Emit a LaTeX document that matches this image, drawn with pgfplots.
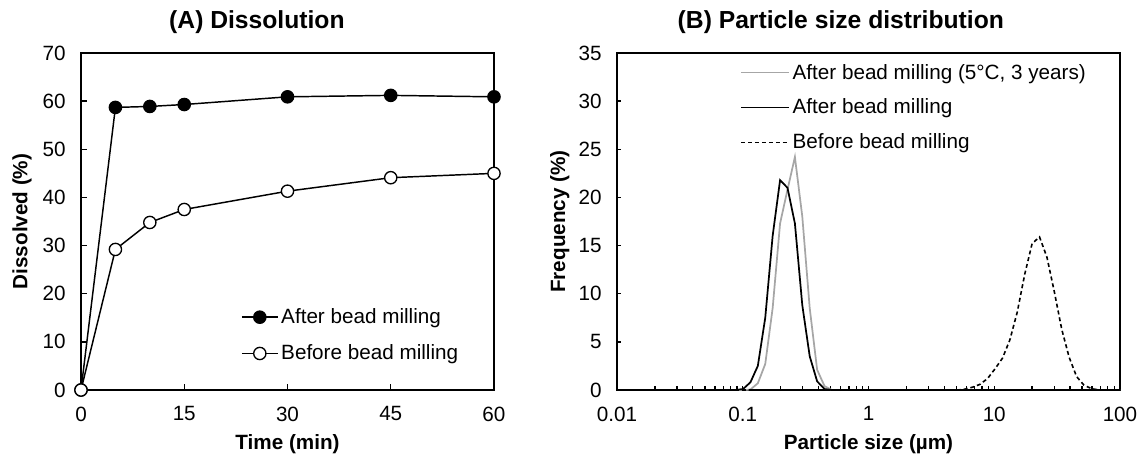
\documentclass[border=0pt]{standalone}
\usepackage{fontspec}
\setmainfont{Liberation Sans}
\usepackage{pgfplots}
\pgfplotsset{compat=1.18}
\definecolor{lgray}{RGB}{166,166,166}
\begin{document}
\begin{tikzpicture}
\pgfplotsset{
  every axis/.append style={
    scale only axis,
    clip=false,
    axis line style={line width=1.4pt},
    tick align=inside,
    xtick pos=bottom, ytick pos=left,
    tick style={line width=1pt, black},
    major tick length=4.5pt,
    minor tick length=3pt,
    tick label style={font=\fontsize{15.5}{18}\selectfont},
    xticklabel style={yshift=-9pt},
    yticklabel style={xshift=-8pt},
    label style={font=\bfseries\fontsize{15.5}{18}\selectfont},
    title style={font=\bfseries\fontsize{18.5}{22}\selectfont},
    /pgf/number format/assume math mode=true,
    legend style={draw=none, fill=none, font=\fontsize{15.5}{18}\selectfont, inner sep=0pt},
    legend cell align=left,
  },
}
\path[use as bounding box] (-60.75pt,-48.75pt) rectangle (793.5pt,292.5pt);

\begin{axis}[name=A, at={(0pt,0pt)}, anchor=south west,
  width=309.75pt, height=252.75pt,
  xmin=0, xmax=60, ymin=0, ymax=70,
  xtick={0,15,30,45,60}, ytick={0,10,...,70},
  xlabel={Time (min)}, ylabel={Dissolved (\%)},
  xlabel style={at={(axis description cs:0.5,-0.160)}, anchor=center},
  ylabel style={at={(axis description cs:-0.1429,0.5)}, anchor=center},
  title={(A) Dissolution},
  title style={at={(axis description cs:0.426,1.068)}, anchor=center, yshift=0pt},
  legend style={at={(axis description cs:0.387,0.25)}, anchor=north west, row sep=10.5pt},
  legend image code/.code={\draw[mark repeat=2,mark phase=2,#1] plot coordinates {(0pt,0pt) (13.5pt,0pt) (27pt,0pt)};},
]
\addplot[black, line width=1.1pt, mark=*, mark size=4.6pt, mark options={fill=black, line width=1pt}]
  coordinates {(0,0) (5,58.7) (10,58.9) (15,59.3) (30,60.9) (45,61.2) (60,60.9)};
\addlegendentry{After bead milling}
\addplot[black, line width=1.1pt, mark=*, mark size=4.6pt, mark options={fill=white, line width=1pt}]
  coordinates {(0,0) (5,29.2) (10,34.8) (15,37.5) (30,41.3) (45,44.1) (60,45.0)};
\addlegendentry{Before bead milling}
\end{axis}

\begin{axis}[name=B, at={(402pt,0pt)}, anchor=south west,
  width=377.25pt, height=252.75pt,
  xmode=log, xmin=0.01, xmax=100, ymin=0, ymax=35,
  xtick={0.01,0.1,1,10,100}, xticklabels={0.01,0.1,1,10,100},
  major tick length=3pt,
  ytick={0,5,...,35},
  yticklabel style={/pgf/number format/fixed},
  xlabel={Particle size (µm)}, ylabel={Frequency (\%)},
  xlabel style={at={(axis description cs:0.5,-0.160)}, anchor=center},
  ylabel style={at={(axis description cs:-0.114,0.5)}, anchor=center},
  title={(B) Particle size distribution},
  title style={at={(axis description cs:0.445,1.068)}, anchor=center, yshift=0pt},
  legend style={at={(axis description cs:0.2445,0.976)}, anchor=north west, row sep=9.5pt},
  legend image code/.code={\draw[#1] (0pt,0pt) -- (36pt,0pt);},
]
\addplot[lgray, line width=1.3pt] coordinates {
(0.01,0) (0.1005,0) (0.1151,0.05) (0.1318,0.7) (0.1510,2.7) (0.1729,8.5) (0.1981,17.3)
(0.2269,20.8) (0.2599,24.2) (0.2976,18.0) (0.3409,8.5) (0.3905,2.1) (0.4472,0.4)
(0.5122,0) (100,0)};
\addlegendentry{After bead milling (5°C, 3 years)}
\addplot[black, line width=1.3pt] coordinates {
(0.01,0) (0.0877,0) (0.1005,0.1) (0.1151,0.8) (0.1318,2.5) (0.1510,7.5) (0.1729,16.0)
(0.1981,21.8) (0.2269,21.0) (0.2599,17.3) (0.2976,8.8) (0.3409,3.5) (0.3905,0.9)
(0.4472,0.1) (0.5122,0) (100,0)};
\addlegendentry{After bead milling}
\addplot[black, line width=1.2pt, dash pattern=on 3pt off 2.2pt] coordinates {
(0.01,0) (5.1471,0) (5.8953,0.1) (6.7523,0.3) (7.7339,0.6) (8.8583,1.2) (10.146,2.2)
(11.621,3.3) (13.310,5.2) (15.245,8.1) (17.461,12.0) (19.999,15.2) (22.906,15.9)
(26.236,13.8) (30.050,10.2) (34.418,6.3) (39.421,3.4) (45.152,1.4) (51.716,0.5)
(59.234,0.15) (67.845,0) (100,0)};
\addlegendentry{Before bead milling}
\end{axis}
\end{tikzpicture}
\end{document}
